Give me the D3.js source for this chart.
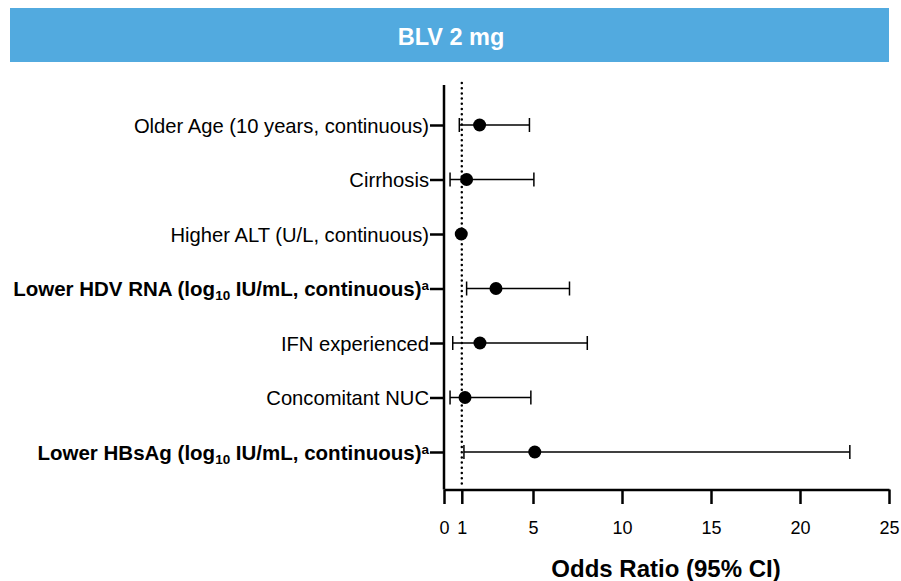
<!DOCTYPE html>
<html>
<head>
<meta charset="utf-8">
<script src="https://cdn.jsdelivr.net/npm/d3@7"></script>
<style>
  html, body { margin: 0; padding: 0; background: #fff; }
  svg { display: block; }
</style>
</head>
<body>
<svg id="chart" width="901" height="581"></svg>
<script>
// Predictors of response, BLV 2 mg arm: odds ratios with 95% CI
const factors = [
  "Older Age (10 years, continuous)",
  "Cirrhosis",
  "Higher ALT (U/L, continuous)",
  "Lower HDV RNA (log10 IU/mL, continuous)a",
  "IFN experienced",
  "Concomitant NUC",
  "Lower HBsAg (log10 IU/mL, continuous)a"
];
const boldFactors = [false, false, false, true, false, false, true];
const oddsRatio = [2.0, 1.27, 0.97, 2.92, 2.02, 1.18, 5.1];
const ciLow     = [0.86, 0.34, 0.96, 1.27, 0.49, 0.34, 1.12];
const ciHigh    = [4.8, 5.05, 0.98, 7.05, 8.05, 4.88, 22.8];
const xTicks = [0, 1, 5, 10, 15, 20, 25];
const titleText = "BLV 2 mg";
const xTitle = "Odds Ratio (95% CI)";

const svg = d3.select("#chart");
const sans = "'Liberation Sans', Arial, sans-serif";

// Header banner
svg.append("rect")
  .attr("x", 10).attr("y", 8).attr("width", 879).attr("height", 54)
  .attr("fill", "#52aadf");
svg.append("text")
  .attr("x", 451).attr("y", 37)
  .attr("text-anchor", "middle").attr("dominant-baseline", "central")
  .attr("fill", "#fff")
  .style("font-family", sans)
  .style("font-weight", "700").style("font-size", "23.5px")
  .text(titleText);

const plot = { left: 444, right: 889, top: 85, bottom: 489.5 };

const x = d3.scaleLinear().domain([0, 25]).range([plot.left, plot.right]);
const y = d3.scalePoint().domain(factors).range([125, 452]);

// X axis
const xAxis = svg.append("g")
  .attr("transform", `translate(0,${plot.bottom})`)
  .call(d3.axisBottom(x).tickValues(xTicks).tickSize(14.5).tickPadding(17).tickSizeOuter(0));
xAxis.select(".domain").attr("stroke", "#000").attr("stroke-width", 2.5);
xAxis.selectAll(".tick line").attr("stroke", "#000").attr("stroke-width", 2.5);
xAxis.selectAll(".tick text")
  .style("font-family", sans)
  .style("font-size", "18px").attr("fill", "#000");

// Y axis
const yAxis = svg.append("g")
  .attr("transform", `translate(${plot.left},0)`)
  .call(d3.axisLeft(y).tickSize(14).tickPadding(3).tickSizeOuter(0).tickFormat(""));
yAxis.select(".domain")
  .attr("d", `M0,${plot.top}V${plot.bottom}`)
  .attr("stroke", "#000").attr("stroke-width", 2.5);
yAxis.selectAll(".tick line").attr("stroke", "#000").attr("stroke-width", 2.5);

// Category labels with subscript / superscript parts
yAxis.selectAll(".tick").each(function(d, i) {
  const t = d3.select(this).select("text")
    .attr("x", -15)
    .attr("dy", "0.35em")
    .attr("fill", "#000")
    .style("font-family", sans)
    .style("font-size", boldFactors[i] ? "20.5px" : "20.2px")
    .style("font-weight", boldFactors[i] ? "700" : "400")
    .text(null);
  if (boldFactors[i]) {
    const m = d.match(/^(.*log)10(.*)a$/);
    t.append("tspan").text(m[1]);
    t.append("tspan").attr("dy", "4").style("font-size", "13.5px").text("10");
    t.append("tspan").attr("dy", "-4").text(m[2]);
    t.append("tspan").attr("dy", "-6").style("font-size", "13.5px").text("a");
  } else {
    t.text(d);
  }
});

// Reference line at OR = 1
svg.append("line")
  .attr("x1", x(1)).attr("x2", x(1))
  .attr("y1", 83).attr("y2", plot.bottom - 2)
  .attr("stroke", "#000").attr("stroke-width", 2.5)
  .attr("stroke-dasharray", "0 5.2").attr("stroke-linecap", "round");

// Confidence intervals
const rows = factors.map((f, i) => ({ f, or: oddsRatio[i], lo: ciLow[i], hi: ciHigh[i] }));
const marks = svg.append("g");
const withBar = rows.filter(r => x(r.hi) - x(r.lo) > 3);
marks.selectAll(".ci").data(withBar).join("line")
  .attr("x1", r => x(r.lo)).attr("x2", r => x(r.hi))
  .attr("y1", r => y(r.f)).attr("y2", r => y(r.f))
  .attr("stroke", "#000").attr("stroke-width", 1.5);
marks.selectAll(".capL").data(withBar).join("line")
  .attr("x1", r => x(r.lo)).attr("x2", r => x(r.lo))
  .attr("y1", r => y(r.f) - 7).attr("y2", r => y(r.f) + 7)
  .attr("stroke", "#000").attr("stroke-width", 1.5);
marks.selectAll(".capR").data(withBar).join("line")
  .attr("x1", r => x(r.hi)).attr("x2", r => x(r.hi))
  .attr("y1", r => y(r.f) - 7).attr("y2", r => y(r.f) + 7)
  .attr("stroke", "#000").attr("stroke-width", 1.5);

// Point estimates
marks.selectAll("circle").data(rows).join("circle")
  .attr("cx", r => x(r.or)).attr("cy", r => y(r.f))
  .attr("r", 6.5).attr("fill", "#000");

// X axis title
svg.append("text")
  .attr("x", 666).attr("y", 568)
  .attr("text-anchor", "middle").attr("dominant-baseline", "central")
  .style("font-family", sans)
  .style("font-weight", "700").style("font-size", "24px")
  .attr("fill", "#000")
  .text(xTitle);
</script>
</body>
</html>
